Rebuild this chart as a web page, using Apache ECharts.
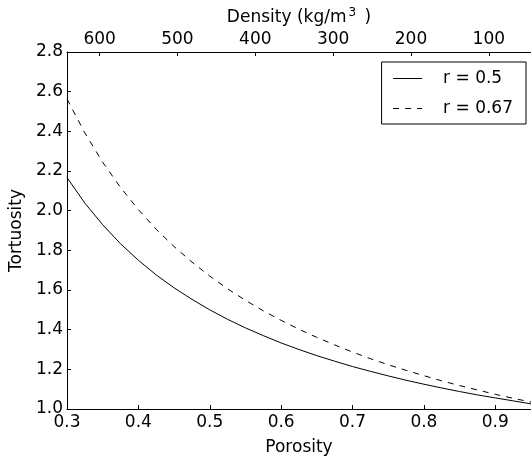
<!DOCTYPE html>
<html>
<head>
<meta charset="utf-8">
<script src="https://cdn.jsdelivr.net/npm/echarts@6/dist/echarts.min.js"></script>
<style>
html,body{margin:0;padding:0;background:#fff;}
#c{width:531px;height:461px;}
</style>
</head>
<body>
<div id="c"></div>
<script>
// Porosity sample points (x)
var porosity = [0.300,0.325,0.350,0.375,0.400,0.425,0.450,0.475,0.500,0.525,0.550,0.575,0.600,0.625,0.650,0.675,0.700,0.725,0.750,0.775,0.800,0.825,0.850,0.875,0.900,0.925,0.950];
// Tortuosity, r = 0.5 (solid)
var tortR050 = [2.167,2.038,1.929,1.833,1.750,1.676,1.611,1.553,1.500,1.452,1.409,1.370,1.333,1.300,1.269,1.241,1.214,1.190,1.167,1.145,1.125,1.106,1.088,1.071,1.056,1.041,1.026];
// Tortuosity, r = 0.67 (dashed)
var tortR067 = [2.563,2.392,2.244,2.117,2.005,1.906,1.819,1.741,1.670,1.606,1.548,1.495,1.447,1.402,1.361,1.323,1.287,1.254,1.223,1.195,1.168,1.142,1.118,1.096,1.074,1.054,1.035];
// Tick labels
var porosityTicks = [0.3,0.4,0.5,0.6,0.7,0.8,0.9];
var densityTicks = [100,200,300,400,500,600];
// Axis ranges
var porosityMin = 0.3, porosityMax = 0.95;
var iceDensity = 917;
var densityLeft = iceDensity * (1 - porosityMin);
var densityRight = iceDensity * (1 - porosityMax);

function pairs(xs, ys){ return xs.map(function(x,i){ return [x, ys[i]]; }); }

var font = 'DejaVu Sans';
var fs = 17;
var chart = echarts.init(document.getElementById('c'), null, {renderer:'canvas'});
chart.setOption({
  animation: false,
  backgroundColor: '#ffffff',
  textStyle: {fontFamily: font},
  grid: {left: 67, top: 52, bottom: 46, right: -4, containLabel: false},
  legend: {
    orient: 'vertical',
    right: 5, top: 62,
    borderColor: '#000', borderWidth: 1, borderRadius: 0,
    padding: [8, 13, 7, 11],
    itemWidth: 29, itemHeight: 14, itemGap: 13,
    itemStyle: {opacity: 0},
    lineStyle: {width: 1},
    textStyle: {fontFamily: font, fontSize: fs, color: '#000', padding: [0,0,0,16]},
    data: ['r = 0.5', 'r = 0.67']
  },
  xAxis: [{
    type: 'value', position: 'bottom',
    min: porosityMin, max: porosityMax,
    name: 'Porosity', nameLocation: 'middle', nameGap: 30,
    nameTextStyle: {fontFamily: font, fontSize: fs, color: '#000'},
    axisLine: {show: true, onZero: false, lineStyle: {color: '#000', width: 1}},
    axisTick: {show: true, inside: true, length: 4, lineStyle: {color: '#000'}, customValues: porosityTicks},
    axisLabel: {fontFamily: font, fontSize: fs, color: '#000', margin: 5, customValues: porosityTicks,
      formatter: function(v){ return v.toFixed(1); }},
    splitLine: {show: false}
  }, {
    type: 'value', position: 'top', inverse: true,
    min: densityRight, max: densityLeft,
    name: 'Density (kg/m{sup|3} )', nameLocation: 'middle', nameGap: 23,
    nameTextStyle: {fontFamily: font, fontSize: fs, color: '#000',
      rich: {sup: {fontFamily: font, fontSize: 12, color: '#000', padding: [0, 3, 9, 2]}}},
    axisLine: {show: true, onZero: false, lineStyle: {color: '#000', width: 1}},
    axisTick: {show: true, inside: true, length: 4, lineStyle: {color: '#000'}, customValues: densityTicks},
    axisLabel: {fontFamily: font, fontSize: fs, color: '#000', margin: 4, customValues: densityTicks,
      formatter: function(v){ return String(Math.round(v)); }},
    splitLine: {show: false}
  }],
  yAxis: {
    type: 'value', min: 1.0, max: 2.8, interval: 0.2,
    name: 'Tortuosity', nameLocation: 'middle', nameGap: 37, nameRotate: 90,
    nameTextStyle: {fontFamily: font, fontSize: fs, color: '#000'},
    axisLine: {show: true, onZero: false, lineStyle: {color: '#000', width: 1}},
    axisTick: {show: true, inside: true, length: 4, lineStyle: {color: '#000'}},
    axisLabel: {fontFamily: font, fontSize: fs, color: '#000', margin: 4,
      formatter: function(v){ return v.toFixed(1); }},
    splitLine: {show: false}
  },
  series: [{
    name: 'r = 0.5', type: 'line', xAxisIndex: 0,
    data: pairs(porosity, tortR050),
    symbol: 'none', smooth: false,
    lineStyle: {color: '#000', width: 1, type: 'solid'},
    itemStyle: {color: '#000'}
  }, {
    name: 'r = 0.67', type: 'line', xAxisIndex: 0,
    data: pairs(porosity, tortR067),
    symbol: 'none', smooth: false,
    lineStyle: {color: '#000', width: 1, type: [6, 6]},
    itemStyle: {color: '#000'}
  }]
});
</script>
</body>
</html>
